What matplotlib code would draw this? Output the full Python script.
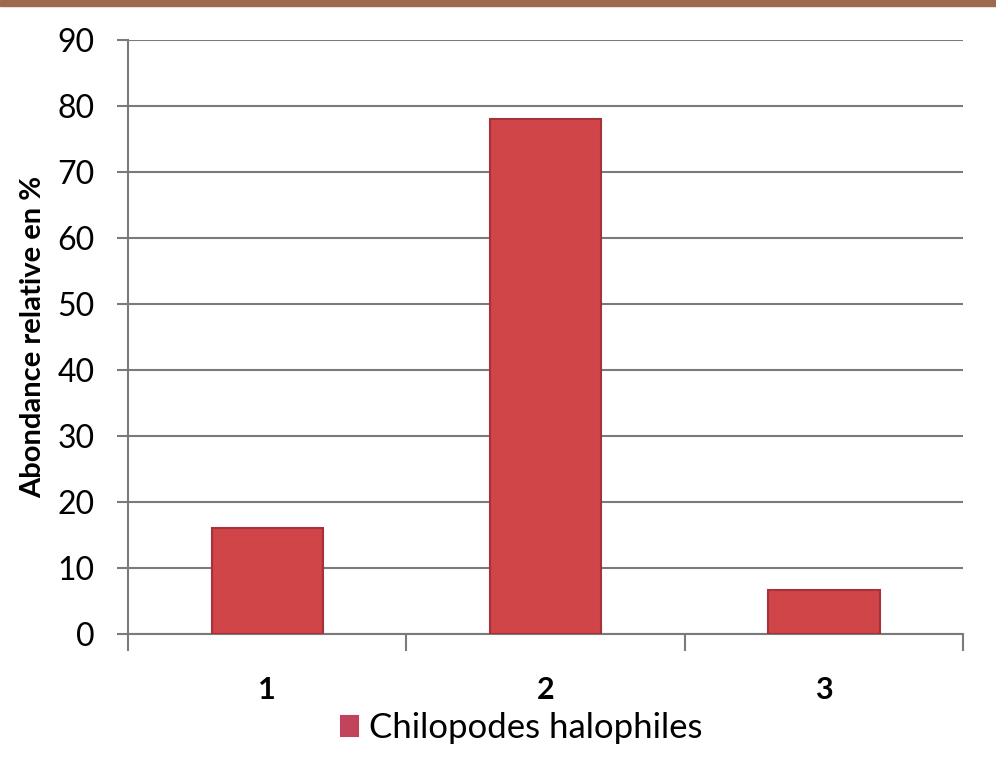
import numpy as np
import matplotlib.pyplot as plt
from matplotlib.patches import Rectangle

stations = ["1", "2", "3"]
abondance = [16, 78, 6.7]
serie = "Chilopodes halophiles"

plt.rcParams['font.family'] = ['Lato', 'DejaVu Sans']

fig = plt.figure(figsize=(9.96, 7.6), dpi=100)
ax = fig.add_axes([128/996, 1-634/760, 835/996, 594/760])

x = np.arange(len(stations))
ax.bar(x, abondance, width=0.4, color="#cf4548", edgecolor="#a8303c",
       linewidth=1.5, label=serie, zorder=3)

ax.set_xlim(-0.5, 2.5)
ax.set_ylim(0, 90)
ax.set_yticks(range(0, 91, 10))
ax.yaxis.grid(True, color="#7a7a7a", linewidth=1.5, zorder=0)
for s in ["top", "right"]:
    ax.spines[s].set_visible(False)
ax.spines["left"].set_color("#7a7a7a")
ax.spines["bottom"].set_color("#7a7a7a")
ax.spines["left"].set_linewidth(1.5)
ax.spines["bottom"].set_linewidth(1.5)

# category boundaries carry the x ticks, labels sit between them
ax.set_xticks([-0.5, 0.5, 1.5, 2.5])
ax.set_xticklabels([])
ax.set_xticks(x, minor=True)
ax.set_xticklabels(stations, minor=True, fontsize=22, fontweight="bold")
ax.tick_params(axis="x", which="major", length=12, width=1.5, color="#7a7a7a")
ax.tick_params(axis="x", which="minor", length=0, pad=30)
ax.tick_params(axis="y", length=8, width=1.5, color="#7a7a7a", labelsize=23, pad=16)

ax.set_ylabel("Abondance relative en %", fontsize=21, fontweight="bold", labelpad=8)

leg = ax.legend(loc="center", bbox_to_anchor=(0.5 - 24/835, -94/594), frameon=False,
                fontsize=25, handlelength=0.5, handleheight=0.5, handletextpad=0.3)
for h in leg.legend_handles:
    h.set_color("#c2435c")

# brown band along the top edge
fig.patches.append(Rectangle((0, 1-6/760), 1, 6/760, transform=fig.transFigure,
                             color="#9c6a4e", zorder=5))

fig.savefig("out.png", dpi=100)
